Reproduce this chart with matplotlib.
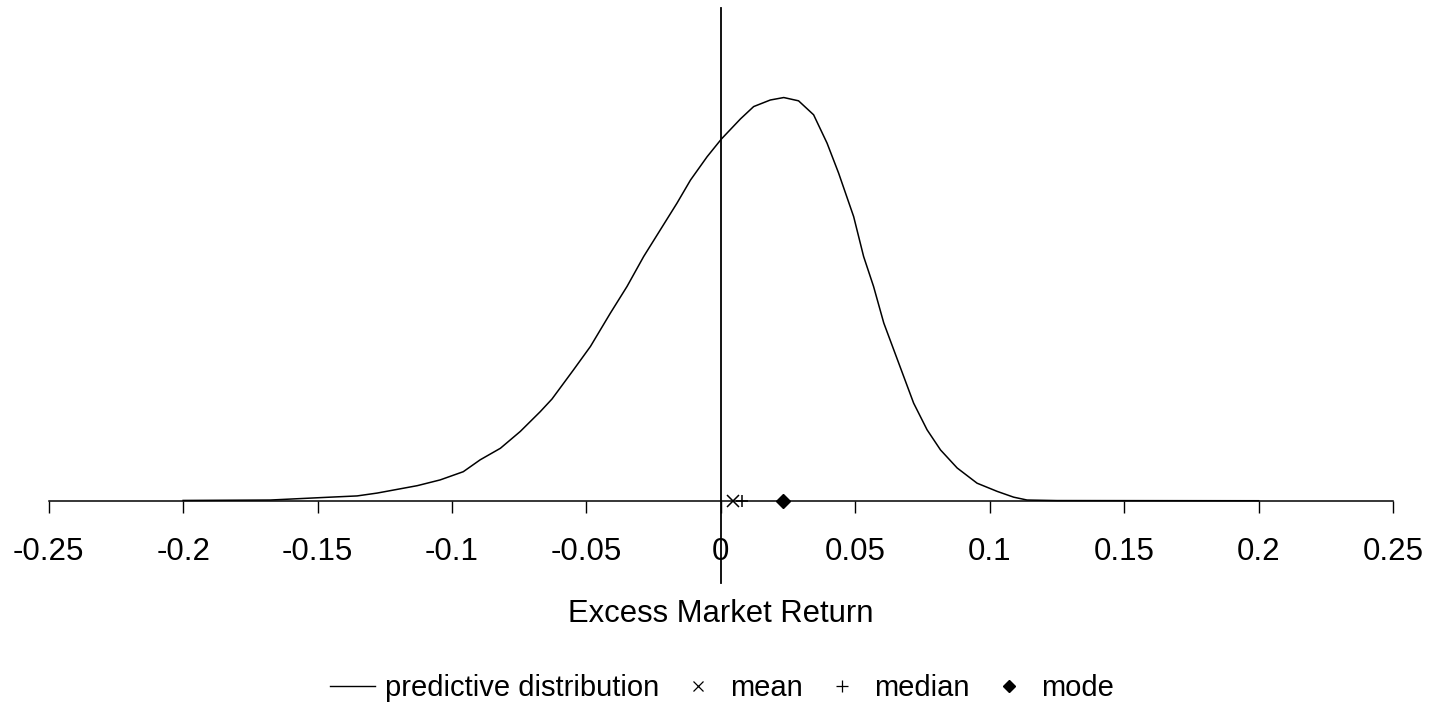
import matplotlib
matplotlib.use("Agg")
import matplotlib.pyplot as plt
import numpy as np

plt.rcParams['font.family'] = ['Liberation Sans', 'DejaVu Sans']

# Predictive distribution of excess market return
ret = [-0.2000, -0.1676, -0.1453, -0.1353, -0.1278, -0.1129, -0.1044, -0.0958,
       -0.0895, -0.0820, -0.0746, -0.0672, -0.0628, -0.0548, -0.0485, -0.0411,
       -0.0349, -0.0287, -0.0225, -0.0163, -0.0113, -0.0051, 0.0002, 0.0073,
       0.0122, 0.0184, 0.0234, 0.0289, 0.0345, 0.0395, 0.0438, 0.0494,
       0.0531, 0.0568, 0.0606, 0.0643, 0.0680, 0.0717, 0.0767, 0.0817,
       0.0879, 0.0953, 0.1028, 0.1089, 0.1139, 0.1250, 0.2000]
density = [0.01, 0.02, 0.09, 0.12, 0.19, 0.37, 0.51, 0.71,
           1.00, 1.28, 1.69, 2.17, 2.48, 3.19, 3.76, 4.57,
           5.22, 5.95, 6.60, 7.25, 7.81, 8.38, 8.81, 9.30,
           9.60, 9.76, 9.82, 9.74, 9.40, 8.71, 7.98, 6.92,
           5.95, 5.22, 4.33, 3.68, 3.03, 2.38, 1.73, 1.24,
           0.80, 0.43, 0.23, 0.09, 0.02, 0.007, 0.003]

mean_val = 0.0044
median_val = 0.0078
mode_val = 0.0232

xticks = [-0.25, -0.2, -0.15, -0.1, -0.05, 0, 0.05, 0.1, 0.15, 0.2, 0.25]
xtick_labels = ['-0.25', '-0.2', '-0.15', '-0.1', '-0.05', '0', '0.05', '0.1', '0.15', '0.2', '0.25']

W, H = 1429, 704
fig = plt.figure(figsize=(W / 100, H / 100), dpi=100)
ax = fig.add_axes([48.7 / W, (H - 583) / H, (1393 - 48.7) / W, (583 - 8) / H])

line, = ax.plot(ret, density, color='black', lw=1.1, label='predictive distribution')
m1, = ax.plot([mean_val], [0], linestyle='none', marker='x', color='black',
              markersize=8, markeredgewidth=1.1, label='mean', clip_on=False)
m2, = ax.plot([median_val], [0], linestyle='none', marker='+', color='black',
              markersize=9, markeredgewidth=1.1, label='median', clip_on=False)
m3, = ax.plot([mode_val], [0], linestyle='none', marker='D', color='black',
              markersize=7, label='mode', clip_on=False)

ax.set_xlim(-0.25, 0.25)
ax.set_ylim(-2, 12)

ax.spines['top'].set_visible(False)
ax.spines['right'].set_visible(False)
ax.spines['bottom'].set_position(('data', 0))
ax.spines['left'].set_position(('data', 0))
ax.spines['bottom'].set_linewidth(1.1)
ax.spines['left'].set_linewidth(1.3)

ax.set_yticks([])
ax.set_xticks(xticks)
ax.set_xticklabels(xtick_labels)
ax.tick_params(axis='x', direction='out', length=8.6, width=1.0, pad=17.5,
               labelsize=22.5, colors='black')

fig.text(720.5 / W, 1 - 614 / H, 'Excess Market Return', ha='center', va='center',
         fontsize=22.3)

leg = fig.legend(handles=[line, m1, m2, m3], loc='center',
                 bbox_to_anchor=(722 / W, 1 - 688 / H), ncol=4, frameon=False,
                 fontsize=21, handlelength=1.55, handletextpad=0.34,
                 columnspacing=0.55, borderpad=0)
leg.legend_handles[0].set_linewidth(1.0)
leg.legend_handles[1].set_markersize(7.5)
leg.legend_handles[1].set_markeredgewidth(0.9)
leg.legend_handles[2].set_markersize(8.5)
leg.legend_handles[2].set_markeredgewidth(0.9)
leg.legend_handles[3].set_markersize(6.5)

fig.savefig('out.png', dpi=100)
